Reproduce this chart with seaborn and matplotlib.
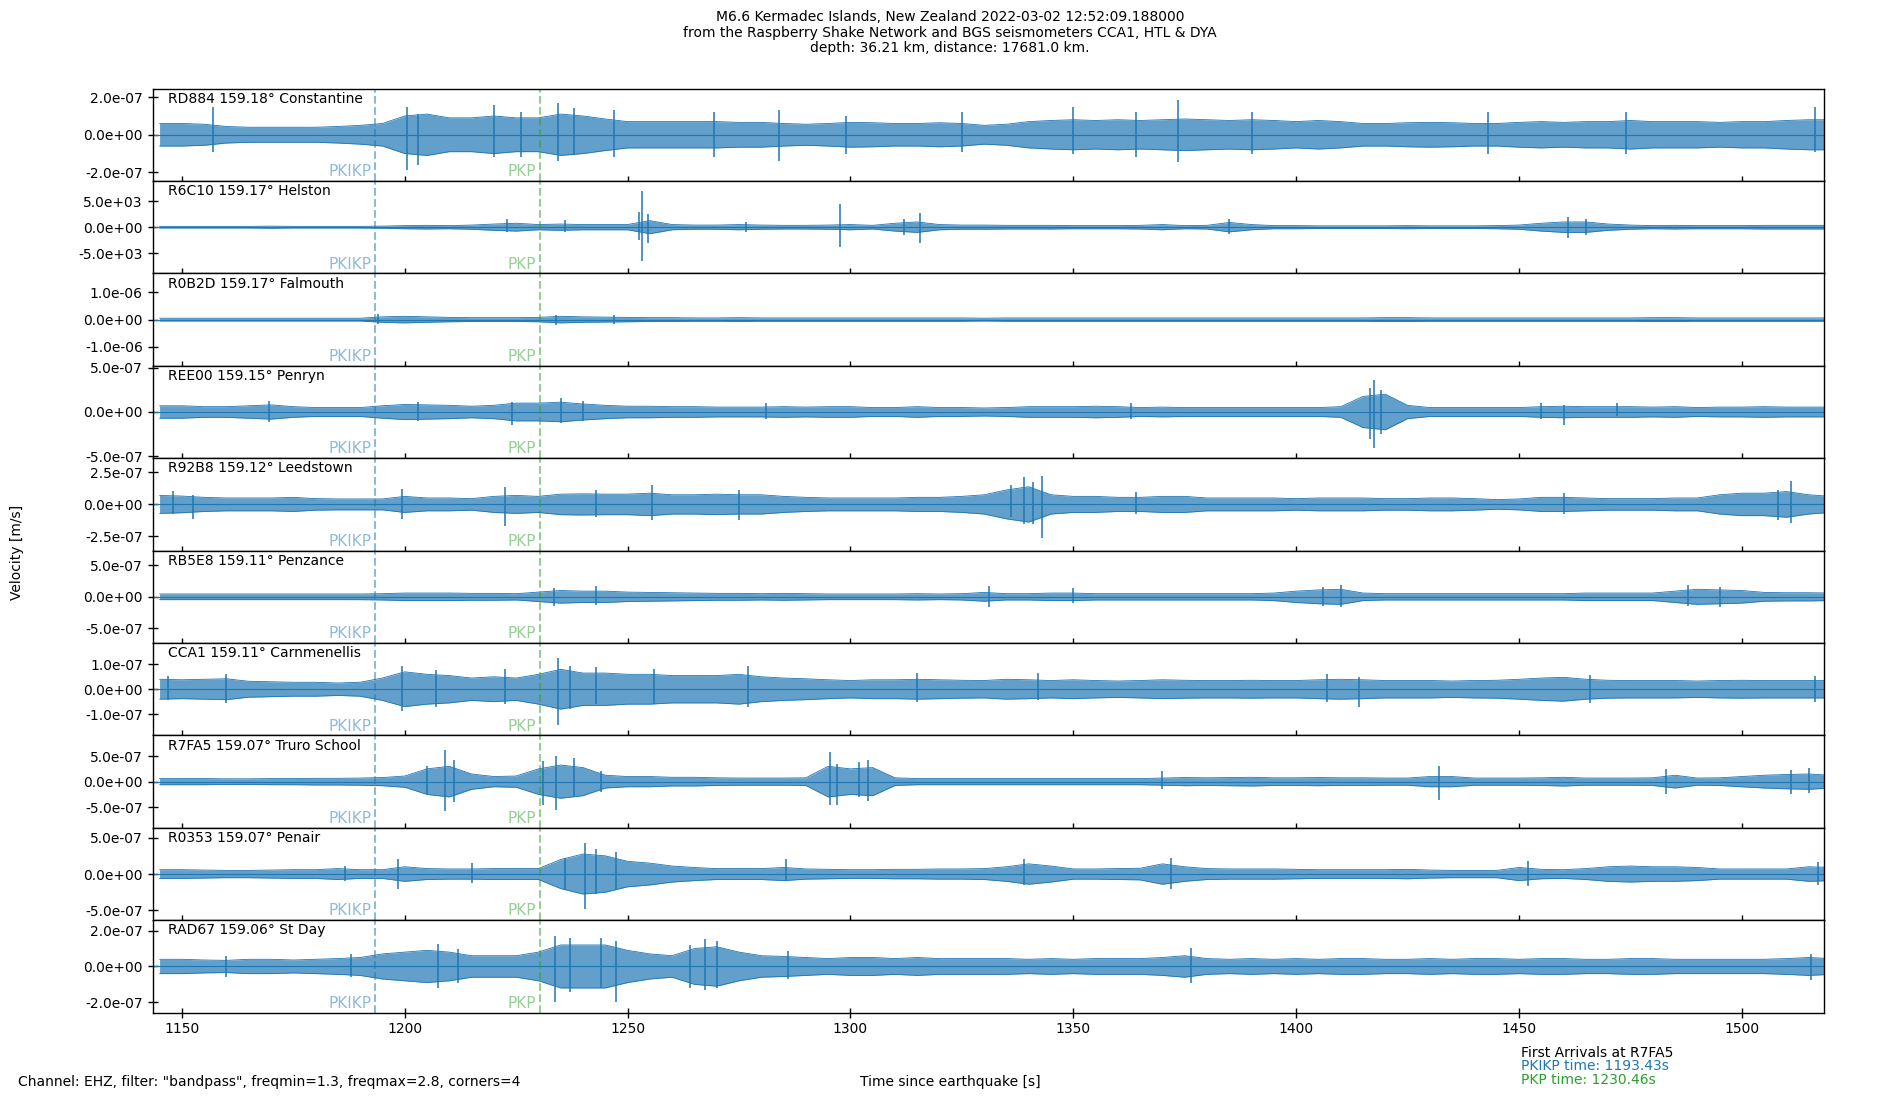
import numpy as np
import pandas as pd
import matplotlib
matplotlib.use("Agg")
import matplotlib.pyplot as plt
import seaborn as sns
from matplotlib.ticker import FormatStrFormatter, MultipleLocator

# ---------------- data ----------------
TITLE_LINES = [
    "M6.6 Kermadec Islands, New Zealand 2022-03-02 12:52:09.188000",
    "from the Raspberry Shake Network and BGS seismometers CCA1, HTL & DYA",
    "depth: 36.21 km, distance: 17681.0 km.",
]
STATIONS = ["RD884", "R6C10", "R0B2D", "REE00", "R92B8", "RB5E8", "CCA1", "R7FA5", "R0353", "RAD67"]
DISTANCES = [159.18, 159.17, 159.17, 159.15, 159.12, 159.11, 159.11, 159.07, 159.07, 159.06]
PLACES = ["Constantine", "Helston", "Falmouth", "Penryn", "Leedstown", "Penzance",
          "Carnmenellis", "Truro School", "Penair", "St Day"]
# y tick value of each panel and the half-range of the panel in tick units
TICK_VALUES = [2e-7, 5e3, 1e-6, 5e-7, 2.5e-7, 5e-7, 1e-7, 5e-7, 5e-7, 2e-7]
YLIM_IN_TICKS = [1.23, 1.77, 1.69, 1.04, 1.44, 1.47, 1.86, 1.81, 1.27, 1.29]

PKIKP_TIME = 1193.43
PKP_TIME = 1230.46
X_RANGE = (1143.43, 1518.43)

# sample times of the read envelopes (s since earthquake)
TIME_GRID = [1145, 1150, 1155, 1160, 1165, 1170, 1175, 1180, 1185, 1190,
             1195, 1200, 1205, 1210, 1215, 1220, 1225, 1230, 1235, 1240,
             1245, 1250, 1255, 1260, 1265, 1270, 1275, 1280, 1285, 1290,
             1295, 1300, 1305, 1310, 1315, 1320, 1325, 1330, 1335, 1340,
             1345, 1350, 1355, 1360, 1365, 1370, 1375, 1380, 1385, 1390,
             1395, 1400, 1405, 1410, 1415, 1420, 1425, 1430, 1435, 1440,
             1445, 1450, 1455, 1460, 1465, 1470, 1475, 1480, 1485, 1490,
             1495, 1500, 1505, 1510, 1515, 1520]

# typical trace envelope (in units of the panel's tick value)
ENV_RD884 = [.30, .30, .28, .22, .20, .20, .20, .20, .22, .25,
             .30, .50, .55, .45, .45, .50, .45, .45, .55, .50,
             .42, .35, .35, .35, .35, .35, .33, .33, .30, .28,
             .30, .33, .32, .30, .30, .32, .30, .25, .28, .35,
             .38, .40, .38, .40, .38, .40, .42, .40, .38, .40,
             .38, .35, .38, .35, .30, .30, .32, .33, .32, .30,
             .30, .33, .35, .33, .35, .35, .38, .35, .35, .35,
             .33, .35, .35, .38, .40, .40]
ENV_R6C10 = [.03, .03, .03, .03, .03, .04, .03, .03, .03, .03,
             .04, .06, .07, .06, .08, .12, .15, .10, .12, .10,
             .10, .10, .25, .10, .08, .08, .10, .08, .07, .07,
             .08, .10, .07, .15, .20, .10, .08, .08, .07, .07,
             .07, .06, .06, .06, .07, .10, .06, .07, .18, .10,
             .06, .06, .05, .05, .05, .05, .06, .05, .05, .05,
             .06, .08, .15, .20, .20, .12, .08, .06, .07, .06,
             .06, .06, .07, .07, .07, .07]
ENV_R0B2D = [.05, .05, .05, .05, .05, .05, .05, .05, .05, .05,
             .10, .12, .10, .08, .07, .07, .07, .08, .12, .10,
             .09, .08, .07, .07, .06, .06, .07, .06, .06, .06,
             .06, .06, .06, .06, .06, .06, .06, .05, .06, .06,
             .06, .06, .06, .06, .06, .06, .06, .06, .06, .06,
             .06, .06, .06, .06, .06, .07, .07, .06, .06, .06,
             .06, .06, .06, .06, .06, .06, .06, .07, .07, .06,
             .06, .06, .06, .06, .06, .06]
ENV_REE00 = [.14, .14, .12, .12, .14, .16, .12, .10, .10, .10,
             .14, .17, .16, .15, .13, .15, .20, .20, .22, .18,
             .15, .13, .13, .12, .12, .11, .11, .11, .12, .11,
             .12, .12, .10, .10, .12, .10, .10, .09, .10, .12,
             .12, .12, .13, .12, .10, .11, .10, .10, .10, .10,
             .10, .10, .10, .12, .35, .40, .15, .10, .10, .10,
             .10, .10, .12, .13, .12, .12, .12, .11, .12, .10,
             .11, .11, .12, .11, .11, .11]
ENV_R92B8 = [.28, .26, .22, .20, .20, .20, .22, .18, .17, .17,
             .17, .25, .20, .20, .18, .25, .28, .25, .32, .33,
             .32, .32, .35, .30, .30, .32, .30, .30, .25, .22,
             .20, .20, .20, .20, .22, .22, .25, .30, .45, .55,
             .30, .25, .25, .22, .22, .25, .25, .20, .20, .20,
             .20, .18, .20, .20, .20, .18, .18, .20, .20, .18,
             .15, .17, .22, .22, .20, .18, .18, .18, .20, .20,
             .30, .35, .35, .40, .30, .25]
ENV_RB5E8 = [.09, .09, .09, .09, .09, .09, .09, .09, .09, .09,
             .10, .12, .12, .12, .11, .11, .10, .15, .20, .18,
             .18, .15, .14, .13, .12, .11, .11, .10, .11, .10,
             .09, .09, .09, .09, .10, .09, .10, .14, .10, .10,
             .12, .12, .10, .10, .10, .10, .10, .10, .10, .10,
             .12, .18, .22, .24, .12, .10, .10, .10, .10, .10,
             .10, .10, .10, .10, .12, .12, .12, .12, .18, .24,
             .22, .20, .14, .13, .13, .12]
ENV_CCA1 = [.40, .38, .40, .42, .32, .30, .28, .28, .25, .28,
            .45, .70, .60, .55, .45, .50, .45, .60, .80, .65,
            .65, .60, .60, .55, .55, .55, .60, .50, .45, .42,
            .38, .35, .38, .38, .40, .38, .36, .35, .40, .38,
            .35, .38, .35, .33, .35, .38, .36, .35, .35, .36,
            .35, .35, .38, .40, .38, .35, .35, .35, .33, .35,
            .36, .40, .45, .48, .40, .36, .35, .35, .35, .33,
            .35, .36, .35, .35, .35, .35]
ENV_R7FA5 = [.12, .12, .12, .11, .11, .12, .12, .13, .13, .14,
             .16, .22, .50, .60, .30, .20, .22, .50, .65, .55,
             .25, .20, .20, .17, .17, .15, .14, .14, .14, .15,
             .60, .50, .55, .15, .12, .12, .12, .12, .12, .12,
             .12, .12, .12, .12, .12, .14, .16, .15, .16, .17,
             .15, .15, .16, .15, .15, .14, .14, .20, .20, .14,
             .14, .14, .15, .17, .14, .14, .14, .15, .25, .14,
             .15, .20, .25, .28, .30, .25]
ENV_R0353 = [.12, .12, .11, .10, .10, .11, .12, .12, .15, .12,
             .12, .20, .15, .14, .14, .15, .15, .15, .40, .55,
             .50, .35, .30, .22, .18, .15, .15, .15, .18, .14,
             .13, .12, .12, .13, .13, .14, .14, .15, .20, .28,
             .22, .14, .14, .15, .16, .28, .20, .15, .14, .14,
             .14, .13, .12, .12, .12, .12, .13, .11, .10, .10,
             .10, .18, .13, .12, .15, .20, .22, .20, .20, .18,
             .14, .14, .14, .14, .20, .18]
ENV_RAD67 = [.20, .20, .18, .17, .20, .20, .18, .20, .22, .25,
             .35, .40, .45, .40, .30, .30, .30, .40, .60, .60,
             .60, .45, .35, .30, .50, .55, .40, .30, .28, .25,
             .22, .25, .25, .22, .25, .22, .22, .22, .22, .20,
             .22, .20, .22, .22, .22, .25, .30, .22, .20, .22,
             .20, .22, .20, .22, .22, .20, .20, .22, .20, .22,
             .22, .20, .22, .22, .20, .20, .22, .22, .20, .20,
             .20, .20, .20, .22, .25, .22]

# largest individual swings: (time, peak above zero, peak below zero) in tick units
SPK_RD884 = [(1157, .75, .45), (1200.5, .75, .95), (1203, .55, .80), (1220, .78, .60),
             (1226, .60, .60), (1234.5, .85, .70), (1238, .70, .55), (1247, .65, .60),
             (1269.5, .60, .60), (1284, .65, .70), (1299, .50, .50), (1325, .60, .45),
             (1350, .75, .50), (1364, .60, .60), (1373.5, .92, .72), (1390, .60, .50),
             (1443, .60, .50), (1474, .60, .50), (1516.5, .75, .45)]
SPK_R6C10 = [(1223, .30, .20), (1236, .27, .20), (1252.5, .60, .50), (1253.2, 1.38, 1.30),
             (1254.5, .50, .60), (1276.5, .20, .20), (1297.7, .90, .75), (1312, .30, .30),
             (1315.5, .55, .60), (1385, .30, .25), (1461, .40, .42), (1465, .30, .30)]
SPK_R0B2D = [(1194, .20, .15), (1234, .17, .20), (1247, .15, .18)]
SPK_REE00 = [(1169.5, .25, .22), (1203, .22, .20), (1224, .22, .30), (1235, .32, .25),
             (1240, .25, .20), (1281, .20, .15), (1363, .20, .15), (1416.5, .55, .60),
             (1417.5, .73, .80), (1419, .50, .50), (1455, .20, .15), (1460, .15, .30),
             (1472, .20, .10)]
SPK_R92B8 = [(1148, .43, .30), (1152.5, .30, .47), (1199.5, .48, .47), (1222.5, .53, .68),
             (1243, .45, .40), (1255.5, .60, .50), (1275, .45, .50), (1336, .60, .40),
             (1339, .85, .62), (1341, .70, .60), (1343, .87, 1.04), (1364, .40, .30),
             (1460, .35, .30), (1508, .45, .50), (1511, .72, .58)]
SPK_RB5E8 = [(1233.5, .28, .28), (1243, .35, .25), (1331, .33, .32), (1350, .28, .20),
             (1406, .30, .30), (1410, .39, .32), (1488, .36, .30), (1495, .30, .32)]
SPK_CCA1 = [(1147, .55, .45), (1160, .63, .56), (1199.5, .95, .87), (1207, .78, .70),
            (1222.5, .80, .60), (1234.5, 1.25, 1.43), (1237, .95, .80), (1243, .90, .60),
            (1256, .80, .60), (1277, .92, .70), (1315, .65, .50), (1342, .65, .45),
            (1407, .60, .50), (1414, .50, .70), (1466, .58, .56), (1516.5, .55, .50)]
SPK_R7FA5 = [(1205, .60, .50), (1209, 1.22, 1.16), (1211, .85, .80), (1231, .80, .90),
             (1234, .99, 1.10), (1238, .92, .60), (1244, .40, .40), (1295.4, 1.18, .92),
             (1297, .70, .90), (1302, .75, .60), (1304, .86, .75), (1370, .42, .30),
             (1432, .63, .72), (1483, .50, .50), (1511, .45, .50), (1515, .53, .45)]
SPK_R0353 = [(1186.5, .22, .20), (1198.5, .40, .40), (1215, .30, .25), (1236, .45, .45),
             (1240.5, .86, .96), (1243, .70, .55), (1247.5, .60, .45), (1285.5, .42, .20),
             (1339, .42, .30), (1372, .45, .40), (1452, .36, .32), (1517, .33, .30)]
SPK_RAD67 = [(1160, .30, .30), (1188, .35, .30), (1207.5, .64, .60), (1212, .50, .45),
             (1233.8, .84, .98), (1237, .80, .70), (1244, .80, .60), (1247.5, .70, .98),
             (1264, .60, .60), (1267.3, .78, .65), (1270, .70, .60), (1286, .42, .35),
             (1376.5, .51, .47), (1515.5, .35, .37)]

ENVELOPES = [ENV_RD884, ENV_R6C10, ENV_R0B2D, ENV_REE00, ENV_R92B8,
             ENV_RB5E8, ENV_CCA1, ENV_R7FA5, ENV_R0353, ENV_RAD67]
SPIKES = [SPK_RD884, SPK_R6C10, SPK_R0B2D, SPK_REE00, SPK_R92B8,
          SPK_RB5E8, SPK_CCA1, SPK_R7FA5, SPK_R0353, SPK_RAD67]

# ---------------- styling ----------------
sns.set_style("ticks", {"xtick.direction": "inout", "ytick.direction": "inout",
                        "axes.edgecolor": "black", "xtick.color": "black",
                        "ytick.color": "black", "text.color": "black",
                        "axes.labelcolor": "black"})
plt.rcParams["font.family"] = ["DejaVu Sans"]
plt.rcParams["font.size"] = 10

TRACE_COLOR = "#1f77b4"
PKIKP_COLOR = "#1f77b4"
PKP_COLOR = "#2ca02c"

fig, axes = plt.subplots(len(STATIONS), 1, figsize=(19, 11), dpi=100, sharex=True,
                         gridspec_kw={"hspace": 0})
fig.subplots_adjust(left=0.0803, right=0.9600, top=0.9195, bottom=0.0794)

for i, ax in enumerate(axes):
    tick = TICK_VALUES[i]
    env = np.array(ENVELOPES[i]) * tick
    df = pd.DataFrame({"t": TIME_GRID, "up": env, "lo": -env})
    ax.fill_between(df["t"], df["lo"], df["up"], color=TRACE_COLOR, lw=0, alpha=0.7)
    sns.lineplot(data=df, x="t", y="up", ax=ax, color=TRACE_COLOR, lw=0.6)
    sns.lineplot(data=df, x="t", y="lo", ax=ax, color=TRACE_COLOR, lw=0.6)
    sp = pd.DataFrame(SPIKES[i], columns=["t", "up", "down"])
    ax.vlines(sp["t"], -sp["down"] * tick, sp["up"] * tick, color=TRACE_COLOR, lw=1.1)
    ax.axhline(0, color=TRACE_COLOR, lw=0.8)

    lim = YLIM_IN_TICKS[i] * tick
    ax.set_ylim(-lim, lim)
    ax.set_yticks([-tick, 0, tick])
    ax.yaxis.set_major_formatter(FormatStrFormatter("%.1e"))
    ax.set_xlim(*X_RANGE)
    ax.xaxis.set_major_locator(MultipleLocator(50))
    ax.set_xlabel("")
    ax.set_ylabel("")
    for s in ax.spines.values():
        s.set_linewidth(1.0)
        s.set_visible(True)
    ax.tick_params(axis="both", direction="inout", length=7, width=1, labelsize=10,
                   top=False, right=False)

    ax.axvline(PKIKP_TIME, color=PKIKP_COLOR, ls="--", lw=1.5, alpha=0.5)
    ax.axvline(PKP_TIME, color=PKP_COLOR, ls="--", lw=1.5, alpha=0.5)
    tr = ax.get_xaxis_transform()
    ax.text(PKIKP_TIME - 0.9, 0.02, "PKIKP", transform=tr, ha="right", va="bottom",
            color=PKIKP_COLOR, alpha=0.5, fontsize=11)
    ax.text(PKP_TIME - 0.9, 0.02, "PKP", transform=tr, ha="right", va="bottom",
            color=PKP_COLOR, alpha=0.5, fontsize=11)
    ax.text(0.0094, 0.965, f"{STATIONS[i]} {DISTANCES[i]:.2f}° {PLACES[i]}",
            transform=ax.transAxes, ha="left", va="top", fontsize=10)

fig.text(0.5, 0.991, "\n".join(TITLE_LINES), ha="center", va="top", fontsize=10,
         linespacing=1.15)
fig.text(0.0089, 0.498, "Velocity [m/s]", rotation=90, ha="center", va="center", fontsize=10)
fig.text(0.5, 0.0165, "Time since earthquake [s]", ha="center", va="center", fontsize=10)
fig.text(0.0096, 0.0165, 'Channel: EHZ, filter: "bandpass", freqmin=1.3, freqmax=2.8, corners=4',
         ha="left", va="center", fontsize=10)
fig.text(0.8004, 0.0430, "First Arrivals at R7FA5", ha="left", va="center", fontsize=10)
fig.text(0.8004, 0.0305, f"PKIKP time: {PKIKP_TIME:.2f}s", ha="left", va="center",
         fontsize=10, color=PKIKP_COLOR)
fig.text(0.8004, 0.0185, f"PKP time: {PKP_TIME:.2f}s", ha="left", va="center",
         fontsize=10, color=PKP_COLOR)

fig.savefig("out.png", dpi=100)
